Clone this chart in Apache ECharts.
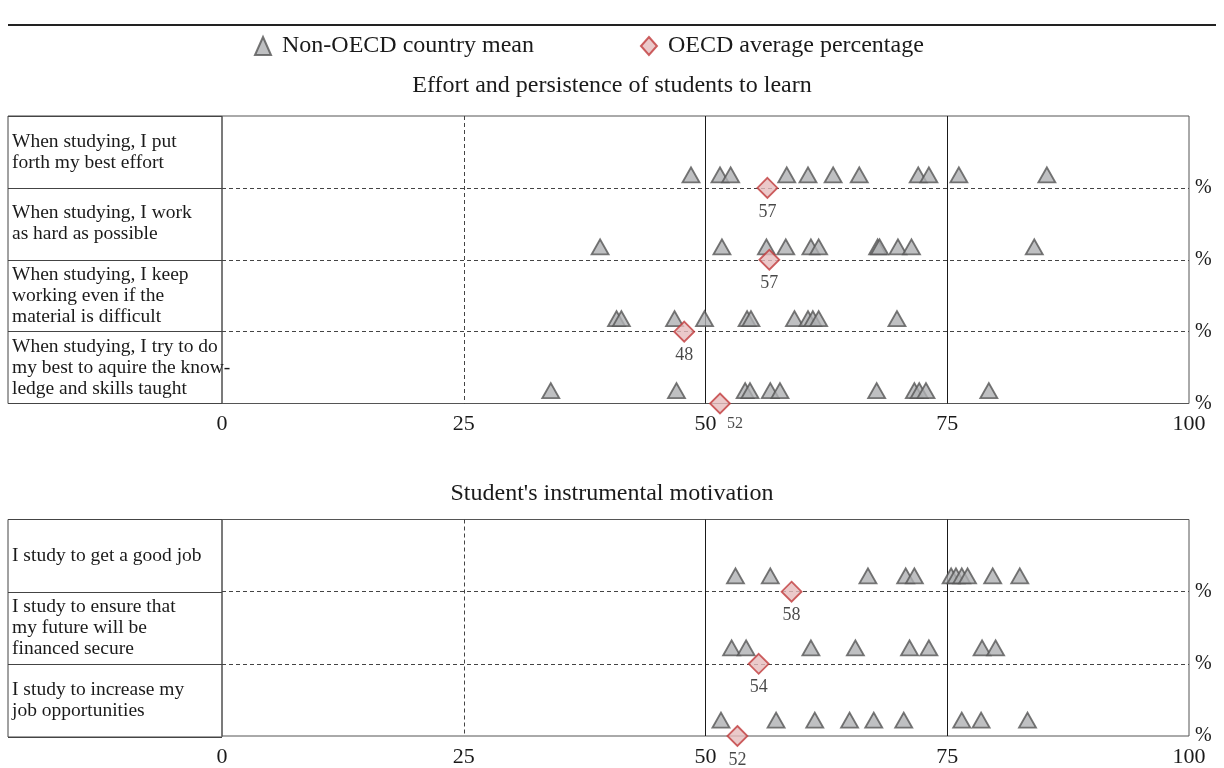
<!DOCTYPE html>
<html>
<head>
<meta charset="utf-8">
<title>Effort and motivation</title>
<script src="https://cdn.jsdelivr.net/npm/echarts@6/dist/echarts.min.js"></script>
<style>
  html, body { margin: 0; padding: 0; background: #fff; }
  #chart { width: 1224px; height: 768px; }
</style>
</head>
<body>
<div id="chart"></div>
<script>
const FONT = "'Liberation Serif', 'Times New Roman', serif";

// panel 1: effort and persistence
const effortItems = [
  'When studying, I put\nforth my best effort',
  'When studying, I work\nas hard as possible',
  'When studying, I keep\nworking even if the\nmaterial is difficult',
  'When studying, I try to do\nmy best to aquire the know-\nledge and skills taught'
];
const effortNonOecd = [
  [48.5, 51.5, 52.6, 58.4, 60.6, 63.2, 65.9, 72.0, 73.1, 76.2, 85.3],
  [39.1, 51.7, 56.3, 58.3, 60.9, 61.7, 67.8, 68.0, 69.9, 71.3, 84.0],
  [40.8, 41.3, 46.8, 49.9, 54.3, 54.7, 59.2, 60.6, 61.1, 61.7, 69.8],
  [34.0, 47.0, 54.1, 54.6, 56.7, 57.7, 67.7, 71.6, 72.1, 72.8, 79.3]
];
const effortOecd = [56.4, 56.6, 47.8, 51.5];
const effortOecdLabels = ['57', '57', '48', '52'];

// panel 2: instrumental motivation
const motivationItems = [
  'I study to get a good job',
  'I study to ensure that\nmy future will be\nfinanced secure',
  'I study to increase my\njob opportunities'
];
const motivationNonOecd = [
  [53.1, 56.7, 66.8, 70.7, 71.6, 75.4, 75.9, 76.5, 77.1, 79.7, 82.5],
  [52.7, 54.2, 60.9, 65.5, 71.1, 73.1, 78.6, 80.0],
  [51.6, 57.3, 61.3, 64.9, 67.4, 70.5, 76.5, 78.5, 83.3]
];
const motivationOecd = [58.9, 55.5, 53.3];
const motivationOecdLabels = ['58', '54', '52'];

const xTickInterval = 25;
const solidGuides = [50, 75];

const panels = [
  {title: 'Effort and persistence of students to learn', titleTop: 74,
   items: effortItems, nonOecd: effortNonOecd, oecd: effortOecd, oecdLabels: effortOecdLabels,
   top: 116, height: 287.5, rise: 0.18, lastLabelAside: true},
  {title: "Student's instrumental motivation", titleTop: 482,
   items: motivationItems, nonOecd: motivationNonOecd, oecd: motivationOecd, oecdLabels: motivationOecdLabels,
   top: 519.5, height: 217.5, rise: 0.22, lastLabelAside: false}
];

const grid = [], xAxis = [], yAxis = [], series = [], title = [];

panels.forEach((p, k) => {
  const li = 2 * k, pi = 2 * k + 1;
  title.push({
    text: p.title, left: 'center', top: p.titleTop, padding: 0,
    textStyle: {fontSize: 24, fontWeight: 'normal', color: '#1a1a1a', fontFamily: FONT}
  });
  // label column
  grid.push({left: 8, width: 214, top: p.top, height: p.height, show: true, borderColor: '#444', borderWidth: 1});
  // plot area
  grid.push({left: 222, width: 967, top: p.top, height: p.height, show: true, borderColor: '#555', borderWidth: 1});

  xAxis.push({gridIndex: li, type: 'value', show: false});
  xAxis.push({
    gridIndex: pi, type: 'value', min: 0, max: 100, interval: xTickInterval,
    axisLine: {show: false}, axisTick: {show: false},
    axisLabel: {margin: 10, fontSize: 22, color: '#1a1a1a', fontFamily: FONT},
    splitLine: {show: true, showMinLine: false, showMaxLine: false, lineStyle: {color: '#444', type: [4, 3], width: 1}}
  });

  yAxis.push({
    gridIndex: li, type: 'category', inverse: true, data: p.items,
    axisLine: {show: false}, axisTick: {show: false},
    axisLabel: {inside: true, margin: 4, interval: 0, fontSize: 19.5, lineHeight: 21, padding: [3, 0, 0, 0],
                color: '#1a1a1a', fontFamily: FONT},
    splitLine: {show: true, interval: 0, lineStyle: {color: '#444', width: 1}}
  });
  yAxis.push({
    gridIndex: pi, type: 'value', position: 'right', inverse: true,
    min: 0, max: p.items.length, interval: 1,
    axisLine: {show: false}, axisTick: {show: false},
    axisLabel: {margin: 6, fontSize: 20, color: '#1a1a1a', fontFamily: FONT, formatter: v => (v === 0 ? '' : '%')},
    splitLine: {show: true, showMinLine: false, showMaxLine: false, lineStyle: {color: '#444', type: [4, 3], width: 1}}
  });

  series.push({
    name: 'Non-OECD country mean', type: 'scatter', xAxisIndex: pi, yAxisIndex: pi, z: 3,
    symbol: 'triangle', symbolSize: [17, 15],
    itemStyle: {color: '#afb0b3', borderColor: '#555', borderWidth: 1.8},
    data: p.nonOecd.flatMap((vals, i) => vals.map(v => [v, i + 1 - p.rise])),
    markLine: {
      silent: true, symbol: 'none', z: 1, label: {show: false},
      lineStyle: {color: '#1a1a1a', type: 'solid', width: 1},
      data: solidGuides.map(v => ({xAxis: v}))
    }
  });

  series.push({
    name: 'OECD average percentage', type: 'scatter', xAxisIndex: pi, yAxisIndex: pi, z: 4,
    symbol: 'diamond', symbolSize: 20,
    itemStyle: {color: '#e6bcbd', borderColor: '#c0393b', borderWidth: 1.8},
    label: {show: true, position: 'bottom', distance: 4, formatter: '{b}', fontSize: 18, color: '#1a1a1a', fontFamily: FONT},
    data: p.oecd.map((v, i) => {
      const d = {name: p.oecdLabels[i], value: [v, i + 1]};
      if (p.lastLabelAside && i === p.oecd.length - 1) {
        d.label = {offset: [15, -3], fontSize: 16};
      }
      return d;
    })
  });
});

const chart = echarts.init(document.getElementById('chart'));
chart.setOption({
  animation: false,
  backgroundColor: '#fff',
  title: title,
  legend: {
    left: 254, top: 34, padding: 0, itemWidth: 16, itemHeight: 18, itemGap: 106,
    textStyle: {fontSize: 24, color: '#1a1a1a', fontFamily: FONT, padding: [0, 0, 0, 6]},
    data: ['Non-OECD country mean', 'OECD average percentage']
  },
  graphic: [{
    type: 'line', silent: true,
    shape: {x1: 8, y1: 25, x2: 1216, y2: 25},
    style: {stroke: '#222', lineWidth: 2}
  }],
  grid: grid,
  xAxis: xAxis,
  yAxis: yAxis,
  series: series
});
</script>
</body>
</html>
